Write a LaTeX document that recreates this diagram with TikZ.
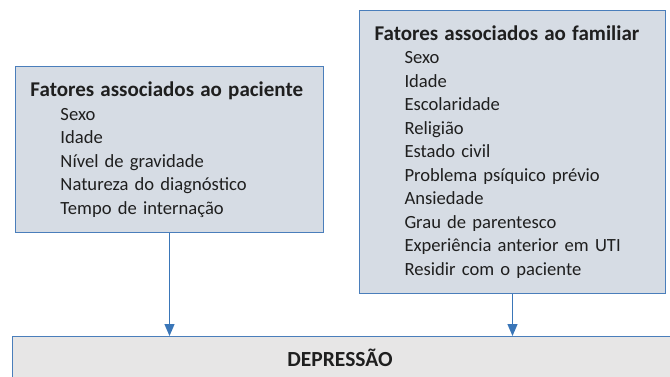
\documentclass[tikz,border=0pt]{standalone}
\usepackage{fontspec}
\setmainfont{Carlito}
\usetikzlibrary{arrows.meta}

\definecolor{boxfill}{HTML}{D6DCE4}
\definecolor{boxline}{HTML}{4A7EBB}
\definecolor{depfill}{HTML}{E7E6E6}
\definecolor{arrowcol}{HTML}{3A76B8}

\newcommand{\fator}[1]{\mbox{\hspace*{30pt}#1}}
\newcommand{\titulo}[1]{\mbox{\bfseries\fontsize{21}{23.5}\selectfont #1}}

\begin{document}
\begin{tikzpicture}[x=1pt,y=-1pt,
    factorbox/.style={draw=boxline, line width=1pt, fill=boxfill, anchor=north west,
      align=left, inner xsep=15pt, inner ysep=0pt, text=black!88,
      font=\fontsize{18.6}{23.5}\selectfont},
    depbox/.style={draw=boxline, line width=1pt, fill=depfill, anchor=north west,
      minimum width=660pt, minimum height=46pt, inner sep=0pt},
    link/.style={draw=arrowcol, line width=1.2pt, -{Triangle[width=10pt,length=12pt]}}]
  \useasboundingbox (0,0) rectangle (670,376);

  % caixas dos fatores
  \node[factorbox, text width=278pt, minimum height=166pt] (paciente) at (15,66) {%
    \titulo{Fatores associados ao paciente}\\
    \fator{Sexo}\\
    \fator{Idade}\\
    \fator{Nível de gravidade}\\
    \fator{Natureza do diagnóstico}\\
    \fator{Tempo de internação}};

  \node[factorbox, text width=276pt, minimum height=283pt] (familiar) at (359,10) {%
    \titulo{Fatores associados ao familiar}\\
    \fator{Sexo}\\
    \fator{Idade}\\
    \fator{Escolaridade}\\
    \fator{Religião}\\
    \fator{Estado civil}\\
    \fator{Problema psíquico prévio}\\
    \fator{Ansiedade}\\
    \fator{Grau de parentesco}\\
    \fator{Experiência anterior em UTI}\\
    \fator{Residir com o paciente}};

  % desfecho
  \node[depbox] (depressao) at (12,336) {};
  \node[text=black!88] (deplabel) at (340,358) {\bfseries\fontsize{21.5}{23.5}\selectfont DEPRESSÃO};

  \draw[link] (paciente.south) -- (paciente.south |- depressao.north);
  \draw[link] (familiar.south) -- (familiar.south |- depressao.north);
\end{tikzpicture}
\end{document}
